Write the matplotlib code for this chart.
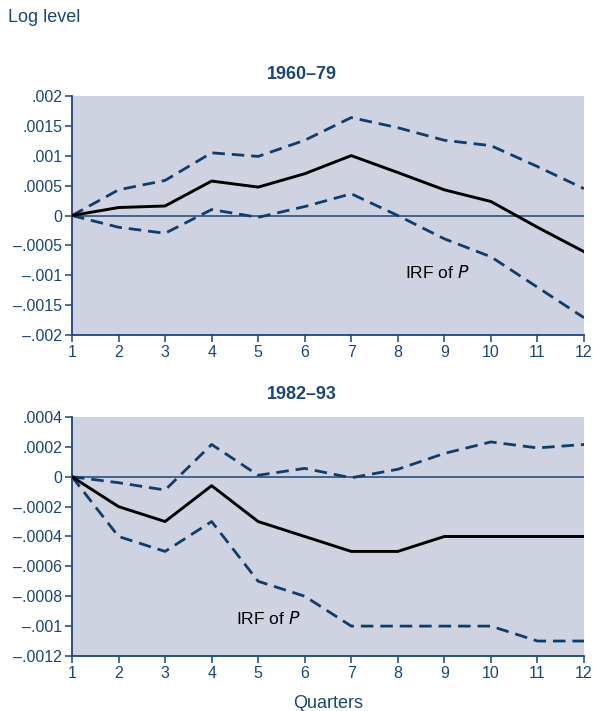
import matplotlib
matplotlib.use("Agg")
import matplotlib.pyplot as plt
from matplotlib.ticker import FuncFormatter

quarters = list(range(1, 13))

# 1960-79 panel
irf_6079 = [0, 0.000134, 0.00016, 0.000577, 0.000476, 0.0007, 0.001003,
            0.00072, 0.00043, 0.000235, -0.000196, -0.000605]
upper_6079 = [0, 0.00043, 0.000588, 0.00105, 0.00099, 0.00126, 0.00164,
              0.00147, 0.00126, 0.00117, 0.00082, 0.00045]
lower_6079 = [0, -0.000196, -0.000297, 0.0001, -0.00003, 0.00015, 0.000364,
              0.0, -0.00039, -0.00069, -0.0012, -0.00171]

# 1982-93 panel
irf_8293 = [0, -0.0002, -0.0003, -0.00006, -0.0003, -0.0004, -0.0005,
            -0.0005, -0.0004, -0.0004, -0.0004, -0.0004]
upper_8293 = [0, -0.00004, -0.000089, 0.000216, 0.00001, 0.000056, -0.000007,
              0.00005, 0.000156, 0.000233, 0.000193, 0.000216]
lower_8293 = [0, -0.0004, -0.0005, -0.0003, -0.0007, -0.0008, -0.001,
              -0.001, -0.001, -0.001, -0.0011, -0.0011]

yticks_6079 = [0.002, 0.0015, 0.001, 0.0005, 0, -0.0005, -0.001, -0.0015, -0.002]
yticks_8293 = [0.0004, 0.0002, 0, -0.0002, -0.0004, -0.0006, -0.0008, -0.001, -0.0012]

NAVY = "#1b4677"
DASH = "#0f3d6b"
BG = "#cfd2e0"

plt.rcParams["font.family"] = ["Liberation Sans", "DejaVu Sans"]


def fmt(v, pos=None):
    if abs(v) < 1e-12:
        return "0"
    s = ("%.4f" % abs(v)).rstrip("0")
    s = s[1:] if s.startswith("0") else s
    return ("\u2013" + s) if v < 0 else s


def panel(ax, title, irf, upper, lower, yticks, label_xy):
    ax.set_facecolor(BG)
    ax.axhline(0, color=NAVY, lw=1.1, zorder=1)
    ax.plot(quarters, upper, color=DASH, lw=2.0, ls=(0, (4.5, 2.5)), zorder=2)
    ax.plot(quarters, lower, color=DASH, lw=2.0, ls=(0, (4.5, 2.5)), zorder=2)
    ax.plot(quarters, irf, color="black", lw=2.1, zorder=3)
    ax.set_xlim(1, 12)
    ax.set_ylim(min(yticks), max(yticks))
    ax.set_xticks(quarters)
    ax.set_yticks(yticks)
    ax.yaxis.set_major_formatter(FuncFormatter(fmt))
    for side in ("top", "right"):
        ax.spines[side].set_visible(False)
    for side in ("left", "bottom"):
        ax.spines[side].set_color(NAVY)
        ax.spines[side].set_linewidth(1.3)
    ax.tick_params(direction="out", length=5, width=1.1, color=NAVY,
                   labelcolor=NAVY, labelsize=11.5, pad=2)
    ax.text(label_xy[0], label_xy[1], "IRF of $\\it{P}$", fontsize=12.5,
            color="black", va="center")
    # panel title sits slightly left of the axes centre
    fig.text(0.509, ax.get_position().y1 + 0.031, title, fontsize=13,
             fontweight="bold", color=NAVY, ha="center", va="center")


fig = plt.figure(figsize=(5.93, 7.11), dpi=100)
ax1 = fig.add_axes([0.1214, 0.5288, 0.8634, 0.3361])
ax2 = fig.add_axes([0.1214, 0.0774, 0.8634, 0.3361])

panel(ax1, "1960\u201379", irf_6079, upper_6079, lower_6079, yticks_6079, (8.15, -0.00095))
panel(ax2, "1982\u201393", irf_8293, upper_8293, lower_8293, yticks_8293, (4.52, -0.00095))

fig.text(0.013, 0.975, "Log level", fontsize=13, color=NAVY, va="center")
fig.text(0.553, 0.011, "Quarters", fontsize=13, color=NAVY, ha="center", va="center")

fig.savefig("out.png", dpi=100)
